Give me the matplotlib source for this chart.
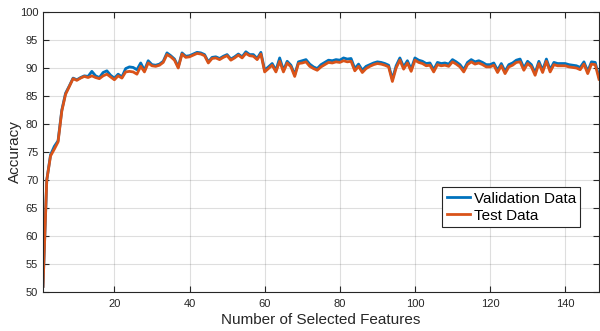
import numpy as np
import matplotlib.pyplot as plt

# number of selected features
n_features = np.arange(1, 150)

val_acc = [
    51.0, 70.0, 74.5, 76.0, 77.0, 82.5, 85.5, 86.8, 88.2, 87.9,
    88.3, 88.6, 88.5, 89.4, 88.6, 88.3, 89.2, 89.5, 88.7, 88.2,
    88.9, 88.4, 89.9, 90.2, 90.1, 89.7, 90.9, 89.6, 91.3, 90.6,
    90.5, 90.7, 91.2, 92.7, 92.2, 91.6, 90.2, 92.7, 92.1, 92.2,
    92.5, 92.8, 92.7, 92.4, 91.1, 91.9, 92.0, 91.7, 92.1, 92.4,
    91.6, 92.0, 92.5, 92.0, 92.9, 92.4, 92.4, 91.7, 92.8, 89.6,
    90.2, 90.8, 89.6, 91.8, 89.6, 91.2, 90.5, 88.8, 91.1, 91.3,
    91.5, 90.7, 90.2, 89.9, 90.6, 91.0, 91.4, 91.3, 91.5, 91.4,
    91.8, 91.6, 91.7, 89.9, 90.7, 89.6, 90.3, 90.6, 90.9, 91.1,
    91.0, 90.8, 90.5, 88.0, 90.4, 91.8, 90.2, 91.3, 89.8, 91.8,
    91.4, 91.2, 90.8, 90.9, 89.7, 91.0, 90.8, 90.9, 90.7, 91.5,
    91.1, 90.6, 89.7, 91.0, 91.5, 91.1, 91.3, 91.0, 90.6, 90.6,
    90.9, 89.6, 90.8, 89.4, 90.6, 90.9, 91.4, 91.6, 90.0, 91.2,
    90.6, 89.1, 91.2, 89.6, 91.6, 89.7, 91.0, 90.8, 90.8, 90.8,
    90.6, 90.5, 90.4, 90.1, 91.1, 89.4, 91.1, 91.0, 88.4,
]

test_acc = [
    51.0, 70.0, 74.3, 75.5, 76.8, 82.3, 85.3, 86.7, 88.1, 87.8,
    88.2, 88.5, 88.3, 88.6, 88.3, 88.1, 88.6, 88.9, 88.4, 87.9,
    88.6, 88.2, 89.3, 89.4, 89.3, 88.9, 90.3, 89.3, 90.9, 90.4,
    90.3, 90.5, 91.0, 92.4, 92.0, 91.4, 90.0, 92.5, 91.9, 92.0,
    92.3, 92.6, 92.5, 92.2, 90.9, 91.7, 91.8, 91.5, 91.9, 92.2,
    91.4, 91.8, 92.3, 91.8, 92.6, 92.2, 92.1, 91.5, 92.5, 89.3,
    89.9, 90.5, 89.3, 91.2, 89.3, 90.9, 90.2, 88.5, 90.8, 90.9,
    91.1, 90.3, 89.9, 89.6, 90.2, 90.6, 91.0, 90.9, 91.1, 91.0,
    91.3, 91.1, 91.2, 89.5, 90.3, 89.2, 89.9, 90.3, 90.6, 90.8,
    90.7, 90.5, 90.2, 87.6, 90.0, 91.4, 89.8, 90.9, 89.4, 91.4,
    91.0, 90.8, 90.4, 90.5, 89.3, 90.6, 90.4, 90.5, 90.3, 91.1,
    90.7, 90.2, 89.3, 90.6, 91.1, 90.7, 90.9, 90.6, 90.2, 90.2,
    90.5, 89.2, 90.4, 89.0, 90.2, 90.5, 91.0, 91.1, 89.6, 90.8,
    90.2, 88.7, 90.8, 89.2, 91.2, 89.3, 90.6, 90.4, 90.4, 90.4,
    90.2, 90.1, 90.0, 89.7, 90.7, 89.0, 90.7, 90.6, 88.0,
]

y_ticks = np.arange(50, 101, 5)
x_ticks = np.arange(20, 141, 20)

plt.rcParams['font.family'] = ['Liberation Sans', 'DejaVu Sans']

fig = plt.figure(figsize=(6.0, 3.31), dpi=100)
ax = fig.add_axes([0.0717, 0.1178, 0.9266, 0.8459])

ax.plot(n_features, val_acc, color='#0072BD', linewidth=2.0, label='Validation Data')
ax.plot(n_features, test_acc, color='#D95319', linewidth=2.0, label='Test Data')

ax.set_xlim(1, 149)
ax.set_ylim(50, 100)
ax.set_xticks(x_ticks)
ax.set_yticks(y_ticks)

ax.grid(True, color='#262626', alpha=0.15, linewidth=0.8)
ax.set_axisbelow(True)
for s in ax.spines.values():
    s.set_color('#262626')
    s.set_linewidth(0.8)
ax.tick_params(direction='in', length=4, width=0.8, colors='#262626',
               labelsize=8, top=True, right=True)
ax.tick_params(axis='x', pad=5)

ax.set_xlabel('Number of Selected Features', fontsize=11, color='#262626', labelpad=3)
ax.set_ylabel('Accuracy', fontsize=11, color='#262626')
ax.yaxis.set_label_coords(-0.038, 0.5)

leg = ax.legend(loc='upper left', bbox_to_anchor=(0.718, 0.375), fontsize=11,
                frameon=True, fancybox=False, framealpha=1, edgecolor='#262626',
                handlelength=1.5, handletextpad=0.25, borderpad=0.3,
                labelspacing=0.2, borderaxespad=0)
leg.get_frame().set_linewidth(0.8)

fig.savefig('out.png', dpi=100)
